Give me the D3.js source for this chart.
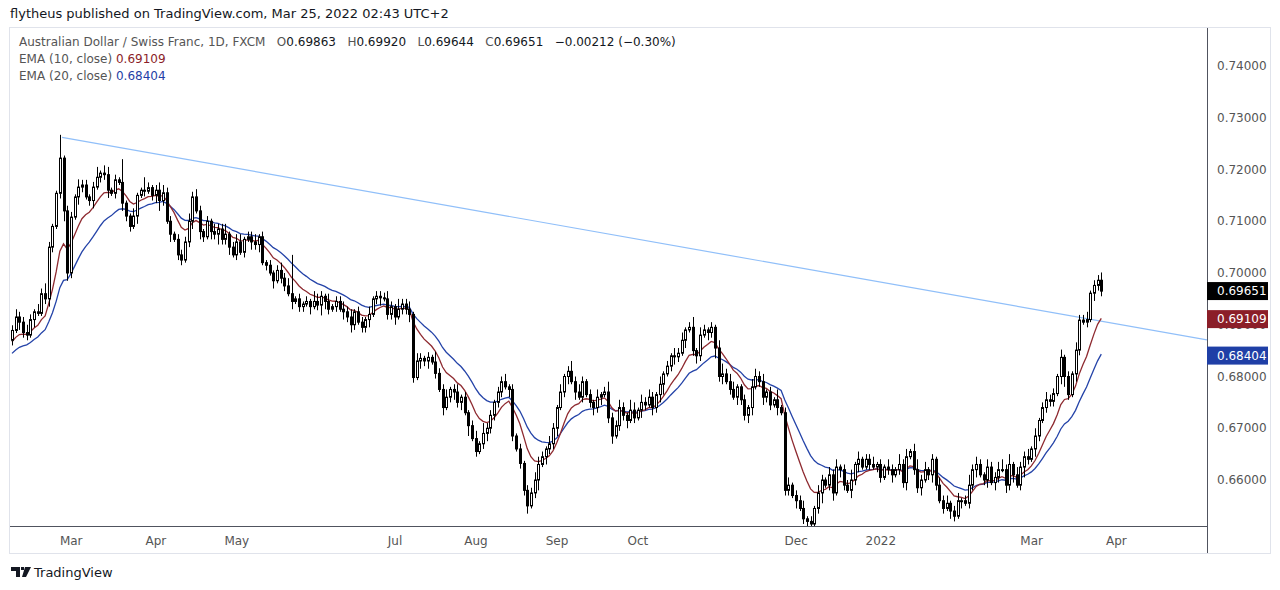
<!DOCTYPE html>
<html><head><meta charset="utf-8">
<script src="https://cdn.jsdelivr.net/npm/d3@7"></script>
<style>body{margin:0;background:#fff}svg{display:block}text{font-family:"DejaVu Sans",sans-serif}</style>
</head><body><svg id="c" width="1280" height="590"></svg>
<script>
// closes in pips (x 1e-4), one per trading day from Feb 8 2021
const closes = [6889,6915,6905,6885,6880,6910,6925,6922,6960,6950,7050,7090,7154,7222,7120,7000,7108,7147,7166,7170,
7147,7140,7166,7185,7193,7190,7160,7154,7180,7175,7135,7110,7090,7110,7150,7160,7158,7165,7150,7160,
7140,7155,7100,7075,7065,7035,7025,7060,7100,7147,7120,7080,7070,7100,7080,7075,7085,7065,7075,7050,
7035,7060,7040,7065,7070,7060,7055,7070,7020,7015,7000,6985,7005,6990,6975,6960,6945,6950,6935,6940,
6945,6935,6945,6938,6955,6945,6930,6935,6945,6930,6925,6915,6900,6925,6905,6895,6910,6920,6950,6955,
6952,6950,6920,6935,6915,6930,6940,6930,6920,6798,6830,6835,6830,6837,6828,6806,6775,6740,6760,6775,
6770,6750,6760,6730,6705,6680,6655,6670,6690,6700,6725,6750,6770,6790,6780,6775,6685,6660,6632,6580,
6550,6575,6600,6630,6645,6660,6670,6700,6740,6770,6800,6810,6790,6770,6760,6790,6765,6750,6740,6760,
6765,6770,6720,6685,6705,6740,6725,6715,6735,6720,6735,6750,6745,6760,6740,6765,6785,6805,6820,6840,
6838,6845,6870,6890,6895,6850,6840,6880,6890,6885,6895,6855,6800,6805,6790,6775,6760,6780,6755,6725,
6740,6780,6800,6790,6760,6770,6745,6755,6740,6730,6580,6590,6570,6560,6545,6525,6520,6515,6545,6575,
6600,6590,6610,6575,6625,6620,6590,6580,6600,6630,6640,6625,6640,6630,6625,6630,6605,6625,6620,6610,
6620,6630,6595,6645,6655,6620,6585,6600,6620,6610,6640,6590,6560,6545,6555,6540,6530,6560,6560,6555,
6590,6620,6630,6610,6600,6625,6595,6605,6620,6620,6590,6630,6610,6590,6625,6645,6640,6660,6685,6715,
6740,6755,6752,6767,6800,6837,6800,6765,6805,6851,6909,6905,6910,6961,6976,6986,6965];
const firstOpen = 6870;
// wick lengths, units of 5 pips (hex digits)
const wickUp   = "2322321324211912213221241331219113115212332212223232121322412331223121212323f12121432131223231221312223214223132121422312312123142212231212122332132131242321213124223214313232131213231241321213423311213323121412312231213213231224131223121321423134231213231231242321322342413223131232213121322312231321312233232121";
const wickDown = "2132213112321243213212312231213221312123421312212313213242231212132312131221312213124321213232122312312231223213231213123231412123222213212231241322312313121232312312231213213234123213123213242312132233123221312213122312412313213231121221231223122312321213213122312313213231242132122213421321213221312213211";
const ema10Start = 0.6862, ema20Start = 0.6840;
const lastClose = 0.69651, lastEma10 = 0.69109, lastEma20 = 0.68404;
const priceTicks = [0.74,0.73,0.72,0.71,0.70,0.69,0.68,0.67,0.66];
const monthTicks = [["2021-03-01","Mar"],["2021-04-01","Apr"],["2021-05-03","May"],["2021-07-01","Jul"],["2021-08-02","Aug"],["2021-09-01","Sep"],["2021-10-01","Oct"],["2021-12-01","Dec"],["2022-01-03","2022"],["2022-03-01","Mar"],["2022-04-01","Apr"]];
const trendA = {i:13.6, p:0.7262}, trendB = {i:292, p:0.6912};

const svg = d3.select("#c");
const n = closes.length;
const dates=[]; let d=new Date(2021,1,8);
while(dates.length<n+20){const w=d.getDay(); if(w>0&&w<6) dates.push(new Date(d)); d.setDate(d.getDate()+1);}
const fmt=d3.timeFormat("%Y-%m-%d");
const idxOf=s=>dates.findIndex(x=>fmt(x)===s);

const data=closes.map((c,i)=>{const o=i?closes[i-1]/1e4:firstOpen/1e4, cc=c/1e4;
  const up=parseInt(wickUp[i]||"1",16)*0.0005, dn=parseInt(wickDown[i]||"1",16)*0.0005;
  return {i,o,c:cc,h:Math.max(o,cc)+up,l:Math.min(o,cc)-dn};});
let e10=ema10Start,e20=ema20Start; const k10=2/11,k20=2/21;
data.forEach(r=>{e10=r.c*k10+e10*(1-k10);e20=r.c*k20+e20*(1-k20);r.e10=e10;r.e20=e20;});

const x=d3.scaleLinear().domain([0,1]).range([12,15.68]);
const y=d3.scaleLinear().domain([0.74,0.66]).range([66,480]);
const L=10,R=1207,T=28,B=526;

svg.append("rect").attr("x",9.5).attr("y",27.5).attr("width",1261).attr("height",526).attr("fill","none").attr("stroke","#e0e3eb");
const g=svg.append("g");
svg.append("defs").append("clipPath").attr("id","cp").append("rect").attr("x",L).attr("y",T).attr("width",R-L).attr("height",B-T);
const pg=g.append("g").attr("clip-path","url(#cp)");

const slope=(trendB.p-trendA.p)/(trendB.i-trendA.i);
const iEnd=x.invert(R);
pg.append("line").attr("x1",x(trendA.i)).attr("y1",y(trendA.p)).attr("x2",x(iEnd)).attr("y2",y(trendA.p+slope*(iEnd-trendA.i)))
  .attr("stroke","#90bff9").attr("stroke-width",1.2);

const line=k=>d3.line().x(r=>x(r.i)).y(r=>y(r[k]));
pg.append("path").datum(data).attr("d",line("e20")).attr("fill","none").attr("stroke","#2443a8").attr("stroke-width",1.3);
pg.append("path").datum(data).attr("d",line("e10")).attr("fill","none").attr("stroke","#8e2a30").attr("stroke-width",1.3);

const cg=pg.selectAll("g.c").data(data).join("g");
cg.append("line").attr("x1",r=>Math.round(x(r.i))+0.5).attr("x2",r=>Math.round(x(r.i))+0.5)
  .attr("y1",r=>y(r.h)).attr("y2",r=>y(r.l)).attr("stroke","#000").attr("stroke-width",1);
cg.append("rect").attr("x",r=>Math.round(x(r.i))-0.5).attr("width",2)
  .attr("y",r=>y(Math.max(r.o,r.c))).attr("height",r=>Math.max(1,Math.abs(y(r.o)-y(r.c))))
  .attr("fill",r=>r.c>=r.o?"#fff":"#000").attr("stroke","#000").attr("stroke-width",1);

svg.append("line").attr("x1",L).attr("x2",R).attr("y1",B+0.5).attr("y2",B+0.5).attr("stroke","#50535e");
svg.append("line").attr("x1",R+0.5).attr("x2",R+0.5).attr("y1",T).attr("y2",553).attr("stroke","#50535e");
svg.selectAll("text.pt").data(priceTicks).join("text").attr("x",1217).attr("y",p=>y(p)+4)
  .attr("font-size",12).attr("fill","#555").text(p=>p.toFixed(5));
svg.selectAll("text.mt").data(monthTicks).join("text").attr("x",m=>x(idxOf(m[0]))+4).attr("y",545)
  .attr("text-anchor","middle").attr("font-size",12).attr("fill","#555").text(m=>m[1]);

[[lastClose,"#000"],[lastEma10,"#8b1e28"],[lastEma20,"#1f3fa6"]].forEach(([v,c])=>{
  svg.append("rect").attr("x",R).attr("y",y(v)-9).attr("width",61).attr("height",18).attr("fill",c);
  svg.append("text").attr("x",1217).attr("y",y(v)+4).attr("font-size",12).attr("fill","#fff").text(v.toFixed(5));
});

svg.append("text").attr("x",10).attr("y",18).attr("font-size",13).attr("fill","#131722").text("flytheus published on TradingView.com, Mar 25, 2022 02:43 UTC+2");
const h1=svg.append("text").attr("x",19).attr("y",46).attr("font-size",12).attr("fill","#555").attr("xml:space","preserve");
h1.append("tspan").text("Australian Dollar / Swiss Franc, 1D, FXCM   O");
h1.append("tspan").attr("fill","#131722").text("0.69863");
h1.append("tspan").text("   H");h1.append("tspan").attr("fill","#131722").text("0.69920");
h1.append("tspan").text("   L");h1.append("tspan").attr("fill","#131722").text("0.69644");
h1.append("tspan").text("   C");h1.append("tspan").attr("fill","#131722").text("0.69651   −0.00212 (−0.30%)");
const h2=svg.append("text").attr("x",19).attr("y",63).attr("font-size",12).attr("fill","#555");
h2.append("tspan").text("EMA (10, close)  ");h2.append("tspan").attr("fill","#8b1e28").text("0.69109");
const h3=svg.append("text").attr("x",19).attr("y",80).attr("font-size",12).attr("fill","#555");
h3.append("tspan").text("EMA (20, close)  ");h3.append("tspan").attr("fill","#1f3fa6").text("0.68404");

svg.append("path").attr("d","M11,567 h9 v10 h-4 v-6 h-5 z M21,567 h3 v3 h-3 z M25,567 h6 l-5,10 h-4 z").attr("fill","#131722");
svg.append("text").attr("x",34).attr("y",577).attr("font-size",13).attr("fill","#131722").text("TradingView");
</script></body></html>
